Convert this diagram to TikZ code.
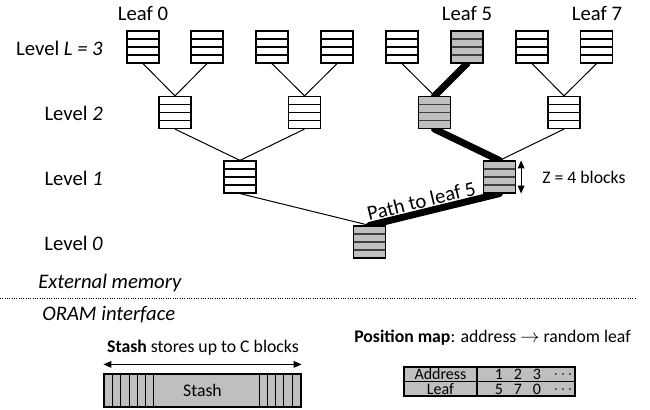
\documentclass[tikz,border=0pt]{standalone}
\usepackage{fontspec}
\setmainfont{Carlito}
\usetikzlibrary{calc,arrows.meta,backgrounds}
\definecolor{bkgray}{HTML}{BFBFBF}
\definecolor{rowdark}{HTML}{404040}
\tikzset{
  rowcolor/.store in=\rowcol, rowcolor=black,
  bucket/.style={draw, line width=0.9pt, minimum width=24pt, minimum height=24pt,
    inner sep=0pt, fill=white,
    path picture={\foreach \f in {0.25,0.5,0.75}{
      \draw[line width=0.9pt,\rowcol]
        ($(path picture bounding box.north west)!\f!(path picture bounding box.south west)$) --
        ($(path picture bounding box.north east)!\f!(path picture bounding box.south east)$);}}},
  gbucket/.style={bucket, fill=bkgray, rowcolor=rowdark},
  edge/.style={line width=0.75pt},
  pathedge/.style={line width=5.2pt, line cap=round},
  biglab/.style={font=\fontsize{15.5}{18}\selectfont, inner sep=0pt},
  midlab/.style={font=\fontsize{13.3}{15}\selectfont, inner sep=0pt},
  tablab/.style={font=\fontsize{12}{14}\selectfont, inner sep=0pt},
  dbl/.style={line width=0.8pt, {Triangle[length=6pt,width=5pt]}-{Triangle[length=6pt,width=5pt]}},
}
\begin{document}
\begin{tikzpicture}[x=0.75pt,y=-0.75pt]
\useasboundingbox (0,0) rectangle (650,410);
% level 3 (leaves)
\node[bucket]  (a0) at (143,47) {};
\node[bucket]  (a1) at (207,47) {};
\node[bucket]  (a2) at (272,47) {};
\node[bucket]  (a3) at (337,47) {};
\node[bucket]  (a4) at (402,47) {};
\node[gbucket] (a5) at (467,47) {};
\node[bucket]  (a6) at (532,47) {};
\node[bucket]  (a7) at (596.5,47) {};
% level 2
\node[bucket]  (b0) at (175,112.5) {};
\node[bucket]  (b1) at (304.5,112.5) {};
\node[gbucket] (b2) at (434.5,112.5) {};
\node[bucket]  (b3) at (564,112.5) {};
% level 1
\node[bucket]  (c0) at (240,177) {};
\node[gbucket] (c1) at (499.5,177) {};
% level 0
\node[gbucket] (d0) at (369.5,242) {};

\begin{scope}[on background layer]
\draw[edge] (a0.south) -- (b0.north);
\draw[edge] (a1.south) -- (b0.north);
\draw[edge] (a2.south) -- (b1.north);
\draw[edge] (a3.south) -- (b1.north);
\draw[edge] (a4.south) -- (b2.north);
\draw[edge] (a6.south) -- (b3.north);
\draw[edge] (a7.south) -- (b3.north);
\draw[edge] (b0.south) -- (c0.north);
\draw[edge] (b1.south) -- (c0.north);
\draw[edge] (b3.south) -- (c1.north);
\draw[edge] (c0.south) -- (d0.north);
\draw[pathedge] (a5.south) -- (b2.north);
\draw[pathedge] (b2.south) -- (c1.north);
\draw[pathedge] (c1.south) -- (d0.north);
\end{scope}

\path (d0.north) -- (c1.south) node[pos=0.42, sloped, above=3pt, biglab] (ptl) {Path to leaf 5};

% Z arrow
\coordinate (zt) at ($(c1.north east)+(5,0)$);
\coordinate (zb) at ($(c1.south east)+(5,0)$);
\draw[dbl] (zt) -- (zb);
\node[midlab, anchor=west] (zlab) at (542,177) {Z = 4 blocks};

% labels
\node[biglab] (leaf0) at (143,13) {Leaf 0};
\node[biglab] (leaf5) at (467,13) {Leaf 5};
\node[biglab] (leaf7) at (597,13) {Leaf 7};
\node[biglab, anchor=east] (lv3) at (103,48) {Level \textit{L = 3}};
\node[biglab, anchor=east] (lv2) at (103,113) {Level \textit{2}};
\node[biglab, anchor=east] (lv1) at (103,178) {Level \textit{1}};
\node[biglab, anchor=east] (lv0) at (103,243) {Level \textit{0}};
\node[biglab, anchor=west] (ext) at (38,283) {\textit{External memory}};
\node[biglab, anchor=west] (oram) at (42,315) {\textit{ORAM interface}};

% separator
\coordinate (sepL) at (0,298);
\coordinate (sepR) at (636,298);
\draw[line width=0.75pt, dash pattern=on 0.75pt off 1pt] (sepL) -- (sepR);

% stash
\node[draw, line width=0.9pt, fill=bkgray, minimum width=147.75pt, minimum height=24.75pt,
      inner sep=0pt, midlab] (stash) at (202.5,390.5) {Stash};
\foreach \x in {112,120.5,129,137,145,153,259,267,275,283,292}
  \draw[line width=0.75pt] (\x,374) -- (\x,407);
\draw[dbl] ($(stash.north west)+(0,-9)$) -- ($(stash.north east)+(0,-9)$);
\node[midlab] (stt) at (203,348) {\textbf{Stash} stores up to C blocks};

% position map
\node[midlab] (pmt) at (492.5,338) {\textbf{Position map}: address $\rightarrow$ random leaf};
\node[draw, line width=0.9pt, fill=bkgray, minimum width=128.25pt, minimum height=21.75pt,
      inner sep=0pt] (pm) at (489.5,381.5) {};
\draw[line width=0.9pt] (pm.west) -- (pm.east);
\draw[line width=0.9pt] (477,367) -- (477,396);
\node[tablab] (ad) at (440.5,374.5) {Address};
\node[tablab] (lf) at (440.5,389.5) {Leaf};
\node[tablab] (n1) at (499,374.5) {1};
\node[tablab] (n2) at (518,374.5) {2};
\node[tablab] (n3) at (537,374.5) {3};
\node[tablab] (n4) at (563,374.5) {$\cdots$};
\node[tablab] (m1) at (499,389.5) {5};
\node[tablab] (m2) at (518,389.5) {7};
\node[tablab] (m3) at (537,389.5) {0};
\node[tablab] (m4) at (563,389.5) {$\cdots$};
\end{tikzpicture}
\end{document}
